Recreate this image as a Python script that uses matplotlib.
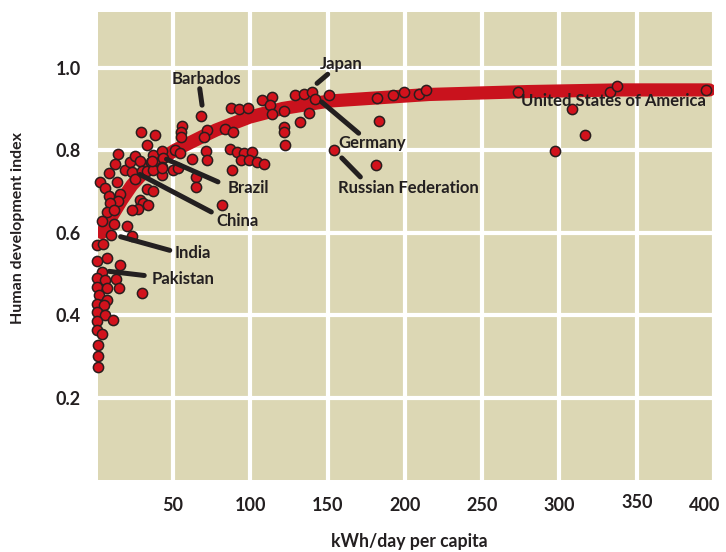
import matplotlib.pyplot as plt
from matplotlib.transforms import ScaledTranslation

# energy use (kWh/day per capita) and human development index, one entry per country
kwh = [29.0, 38.5, 33.5, 55.5, 55.0, 55.0, 68.4, 72.1, 69.9, 83.9,
       88.8, 87.7, 92.5, 98.7, 107.7, 114.2, 112.8, 114.2, 121.5, 121.7,
       121.7, 122.3, 129.1, 134.7, 139.9, 141.6, 150.8, 137.9, 132.1, 154.4,
       181.8, 192.4, 199.5, 209.4, 213.7, 183.4, 181.5, 273.0, 308.1, 316.8,
       297.0, 333.0, 337.3, 395.0,
       14.2, 12.5, 8.5, 2.8, 6.0, 13.5, 18.9, 22.1, 25.4, 28.6,
       23.6, 25.2, 29.7, 33.2, 35.7, 37.2, 42.6, 43.6, 42.6, 43.0,
       50.1, 53.3, 51.6, 54.8, 62.1, 64.7, 64.9, 71.6, 71.9, 87.0,
       91.5, 95.8, 101.0, 94.2, 99.4, 104.6, 108.9, 88.1, 81.9, 32.9,
       37.2, 8.8, 15.7, 14.6, 9.2, 28.6, 30.7, 33.9, 27.1, 23.2,
       7.5, 11.8, 3.9, 11.8, 20.0, 9.7, 23.2, 37.2, 36.1, 43.0,
       0.6, 4.9, 0.6, 7.1, 15.7, 3.9, 0.8, 6.2, 13.3, 0.8,
       7.3, 14.8, 30.1, 1.9, 0.8, 7.1, 5.4, 0.8, 6.0, 11.0,
       1.0, 0.6, 4.3, 1.7, 1.7, 1.7]
hdi = [0.844, 0.837, 0.812, 0.859, 0.845, 0.832, 0.883, 0.848, 0.833, 0.852,
       0.843, 0.903, 0.899, 0.901, 0.922, 0.928, 0.909, 0.888, 0.895, 0.857,
       0.844, 0.813, 0.933, 0.937, 0.941, 0.925, 0.933, 0.891, 0.869, 0.800,
       0.927, 0.934, 0.942, 0.937, 0.947, 0.871, 0.764, 0.942, 0.900, 0.836,
       0.797, 0.941, 0.955, 0.945,
       0.790, 0.767, 0.744, 0.722, 0.708, 0.723, 0.753, 0.770, 0.785, 0.774,
       0.748, 0.731, 0.749, 0.749, 0.770, 0.789, 0.798, 0.782, 0.760, 0.739,
       0.753, 0.756, 0.801, 0.792, 0.779, 0.736, 0.711, 0.797, 0.775, 0.802,
       0.795, 0.792, 0.795, 0.776, 0.776, 0.771, 0.766, 0.753, 0.668, 0.705,
       0.702, 0.688, 0.693, 0.676, 0.672, 0.680, 0.671, 0.668, 0.658, 0.654,
       0.651, 0.656, 0.628, 0.622, 0.616, 0.595, 0.591, 0.752, 0.773, 0.757,
       0.569, 0.573, 0.530, 0.538, 0.521, 0.505, 0.489, 0.485, 0.488, 0.469,
       0.466, 0.466, 0.454, 0.449, 0.428, 0.437, 0.425, 0.408, 0.400, 0.389,
       0.385, 0.363, 0.355, 0.328, 0.300, 0.273]

# trend curve
fit_kwh = [4.1, 10.5, 17.0, 23.4, 32.0, 40.6, 51.4, 62.1, 70.7, 78.0,
           99.5, 121.0, 151.0, 215.7, 280.0, 338.0, 397.0]
fit_hdi = [0.600, 0.640, 0.680, 0.715, 0.750, 0.775, 0.800, 0.820, 0.836, 0.849,
           0.880, 0.901, 0.919, 0.935, 0.942, 0.946, 0.946]

# label, text x, text baseline y, leader line start, leader line end
labels = [
    ("Barbados", 49.0, 0.960, (67.3, 0.949), (68.8, 0.909)),
    ("Japan", 145.2, 0.997, (143.2, 0.962), (150.1, 0.984)),
    ("Germany", 157.0, 0.806, (146.1, 0.917), (170.1, 0.841)),
    ("Russian Federation", 157.0, 0.697, (159.2, 0.781), (171.2, 0.735)),
    ("Brazil", 85.5, 0.697, (45.8, 0.778), (79.1, 0.723)),
    ("China", 78.1, 0.617, (28.6, 0.741), (74.8, 0.650)),
    ("India", 51.2, 0.539, (16.1, 0.590), (47.9, 0.557)),
    ("Pakistan", 36.1, 0.476, (8.8, 0.506), (31.4, 0.496)),
    ("United States of America", 275.0, 0.906, None, None),
]

x_ticks = [50, 100, 150, 200, 250, 300, 350, 400]
y_ticks = [0.2, 0.4, 0.6, 0.8, 1.0]

txt = '#231f20'
red = '#d2121c'
plt.rcParams['font.family'] = ['Lato', 'DejaVu Sans']

fig = plt.figure(figsize=(7.26, 5.52), dpi=100)
ax = fig.add_axes([0.1346, 0.1304, 0.9835 - 0.1346, 0.9783 - 0.1304])
ax.set_facecolor('#dcd7b4')
for s in ax.spines.values():
    s.set_visible(False)

ax.set_xlim(1.3, 400)
ax.set_ylim(0, 1.135)
for xv in x_ticks:
    ax.axvline(xv, color='white', lw=3, zorder=1)
for yv in y_ticks:
    ax.axhline(yv, color='white', lw=3, zorder=1)

ax.plot(fit_kwh, fit_hdi, color='#c9121d', lw=9.5, solid_capstyle='round',
        solid_joinstyle='round', zorder=2)
ax.scatter(kwh, hdi, s=54, c=red, edgecolors='#2a1e1e', linewidths=1.1,
           zorder=3, clip_on=False)

for name, tx, ty, p0, p1 in labels:
    if p0 is not None:
        ax.plot([p0[0], p1[0]], [p0[1], p1[1]], color=txt, lw=3.6,
                solid_capstyle='round', zorder=4)
    ax.text(tx, ty, name, fontsize=12, fontweight='bold', color=txt,
            ha='left', va='baseline', zorder=5)

ax.set_xticks(x_ticks)
ax.set_xticklabels([str(v) for v in x_ticks])
ax.set_yticks(y_ticks)
ax.set_yticklabels([f'{v:.1f}' for v in y_ticks])
ax.tick_params(length=0, labelsize=13, labelcolor=txt, pad=12)
for lab in ax.get_xticklabels() + ax.get_yticklabels():
    lab.set_fontweight('bold')
last = ax.get_xticklabels()[-1]
last.set_transform(last.get_transform() + ScaledTranslation(-9 / 100, 0, fig.dpi_scale_trans))
lab350 = ax.get_xticklabels()[-2]
lab350.set_transform(lab350.get_transform() + ScaledTranslation(0, 3 / 100, fig.dpi_scale_trans))

fig.text(409 / 726, 1 - 541 / 552, 'kWh/day per capita', fontsize=12.7,
         fontweight='bold', color=txt, ha='center', va='center')
fig.text(18 / 726, 1 - 228 / 552, 'Human development index', fontsize=11.5,
         fontweight='bold', color=txt, ha='center', va='center', rotation=90)

fig.savefig('out.png', dpi=100)
